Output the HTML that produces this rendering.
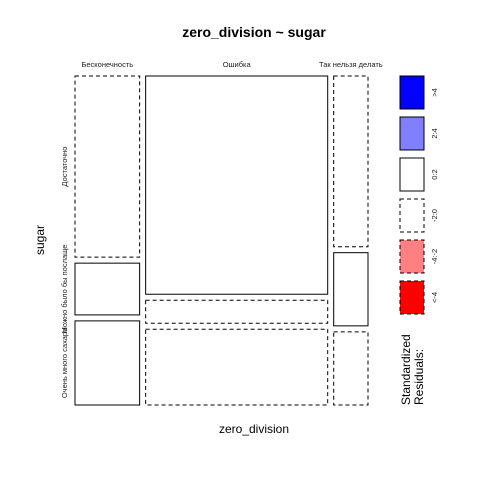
<!DOCTYPE html>
<html><head><meta charset="utf-8"><style>body{margin:0;background:#fff}svg{display:block;font-family:"Liberation Sans",sans-serif}</style></head>
<body>
<svg id="c" width="480" height="480">
<rect width="480" height="480" fill="#fff"/>
<text x="254" y="37" text-anchor="middle" font-size="14" font-weight="bold">zero_division ~ sugar</text>
<text x="254" y="433" text-anchor="middle" font-size="12">zero_division</text>
<text transform="translate(44,240) rotate(-90)" text-anchor="middle" font-size="12">sugar</text>
<g id="m"></g>
<g id="lg"></g>
</svg>
<script>
const cols=["Бесконечность","Ошибка","Так нельзя делать"];
const rows=["Достаточно","Можно было бы послаще","Очень много сахара"];
const counts=[[28,8,13],[95,10,33],[14,6,6]];
const legendLabels=[">4","2:4","0:2","-2:0","-4:-2","<-4"];
const NS="http://www.w3.org/2000/svg";
const m=document.getElementById('m');
function mk(t,a,p){const e=document.createElementNS(NS,t);for(const k in a)e.setAttribute(k,a[k]);p.appendChild(e);return e;}
const X0=75,X1=368,Y0=76,Y1=405,G=6;
const colTot=counts.map(c=>c.reduce((a,b)=>a+b,0));
const N=colTot.reduce((a,b)=>a+b,0);
const rowTot=rows.map((_,j)=>counts.reduce((s,c)=>s+c[j],0));
const W=X1-X0-G*(cols.length-1),H=Y1-Y0-G*(rows.length-1);
let x=X0;
cols.forEach((cn,i)=>{
  const w=W*colTot[i]/N;
  const t=mk('text',{x:x+w/2,y:67,'text-anchor':'middle','font-size':7.5,fill:'#222'},m);t.textContent=cn;
  
  
  let y=Y0;
  rows.forEach((rn,j)=>{
    const h=H*counts[i][j]/colTot[i];
    const e=colTot[i]*rowTot[j]/N;const r=(counts[i][j]-e)/Math.sqrt(e);
    const fill=r>4?'#0000ff':r>2?'#8080ff':r<-4?'#ff0000':r<-2?'#ff8080':'#fff';
    const rc=mk('rect',{x:x,y:y,width:w,height:h,fill:fill,stroke:'#000','stroke-width':1,'stroke-dasharray':r<0?'4,3':'none'},m);
    
    
    if(i===0){
      const l=mk('text',{transform:`translate(67,${y+h/2}) rotate(-90)`,'text-anchor':'middle','font-size':7.5,fill:'#222'},m);l.textContent=rn;
      
      
    }
    y+=h+G;
  });
  x+=w+G;
});
const lg=document.getElementById('lg');
const lf=['#0000ff','#8080ff','#fff','#fff','#ff8080','#ff0000'];
legendLabels.forEach((s,k)=>{
  const y=76+k*41;
  const r=mk('rect',{x:400,y:y,width:24,height:33,fill:lf[k],stroke:'#000','stroke-dasharray':k>=3?'4,3':'none'},lg);
  
  
  const t=mk('text',{transform:`translate(437,${y+16.5}) rotate(-90)`,'text-anchor':'middle','font-size':7.5,fill:'#222'},lg);t.textContent=s;
  
  
});
const t1=mk('text',{transform:'translate(410,405) rotate(-90)','font-size':12},lg);t1.textContent='Standardized';


const t2=mk('text',{transform:'translate(423,405) rotate(-90)','font-size':12},lg);t2.textContent='Residuals:';


</script>
</body></html>
